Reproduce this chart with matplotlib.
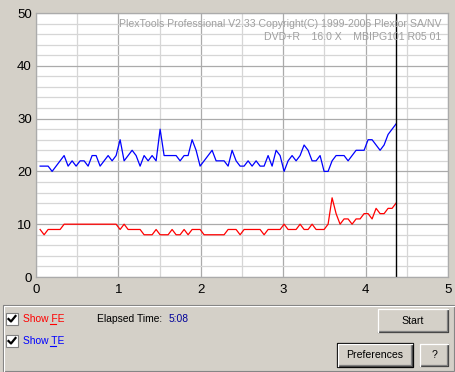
import numpy as np
import matplotlib
matplotlib.use('Agg')
import matplotlib.pyplot as plt
import matplotlib.patches as patches

# samples from 0.05 to 4.37, evenly spaced
te = [21, 21, 21, 20, 21, 22, 23, 21, 22, 21, 22, 22, 21, 23, 23, 21, 22, 23, 22, 23,
      26, 22, 23, 24, 23, 21, 23, 22, 23, 22, 28, 23, 23, 23, 23, 22, 23, 23, 26, 24,
      21, 22, 23, 24, 22, 22, 22, 21, 24, 22, 21, 21, 22, 21, 22, 21, 21, 23, 21, 24,
      23, 20, 22, 23, 22, 23, 25, 24, 22, 22, 23, 20, 20, 22, 23, 23, 23, 22, 23, 24,
      24, 24, 26, 26, 25, 24, 25, 27, 28, 29]
fe = [9, 8, 9, 9, 9, 9, 10, 10, 10, 10, 10, 10, 10, 10, 10, 10, 10, 10, 10, 10,
      9, 10, 9, 9, 9, 9, 8, 8, 8, 9, 8, 8, 8, 9, 8, 8, 9, 8, 9, 9,
      9, 8, 8, 8, 8, 8, 8, 9, 9, 9, 8, 9, 9, 9, 9, 9, 8, 9, 9, 9,
      9, 10, 9, 9, 9, 10, 9, 9, 10, 9, 9, 9, 10, 15, 12, 10, 11, 11, 10, 11,
      11, 12, 12, 11, 13, 12, 12, 13, 13, 14]
t = np.linspace(0.05, 4.37, len(te))

xticks = [0, 1, 2, 3, 4, 5]
yticks = [0, 10, 20, 30, 40, 50]

bg = '#D4D0C8'
W, H = 455, 372
fig = plt.figure(figsize=(W/100, H/100), dpi=100, facecolor=bg)
plt.rcParams['font.family'] = ['Liberation Sans', 'DejaVu Sans']

# overlay in pixel coords for the window widgets
ui = fig.add_axes([0, 0, 1, 1])
ui.set_xlim(0, W)
ui.set_ylim(H, 0)
ui.axis('off')

# chart
ax = fig.add_axes([36/W, (H-277)/H, 412/W, 264/H])
ax.set_facecolor('white')
ax.set_xlim(0, 5)
ax.set_ylim(0, 50)
ax.set_xticks(xticks)
ax.set_yticks(yticks)
ax.set_xticks(np.arange(0, 5.01, 0.5), minor=True)
ax.set_yticks(np.arange(0, 50.1, 2), minor=True)
ax.grid(which='minor', color='#D6D6D6', lw=0.9)
ax.grid(which='major', color='#ABABAB', lw=0.9)
ax.set_axisbelow(True)
ax.tick_params(which='both', length=0, labelsize=9.5)
ax.tick_params(axis='y', pad=3)
ax.tick_params(axis='x', pad=5)
for s in ax.spines.values():
    s.set_color('#ABABAB')
    s.set_linewidth(0.9)

ax.text(0.984, 0.957, 'PlexTools Professional V2.33 Copyright(C) 1999-2006 Plextor SA/NV',
        transform=ax.transAxes, ha='right', va='center', color='#A0A0A0', fontsize=7.55)
ax.text(0.984, 0.908, 'DVD+R    16.0 X    MBIPG101 R05 01',
        transform=ax.transAxes, ha='right', va='center', color='#A0A0A0', fontsize=7.55)

ax.plot(t, te, color='blue', lw=0.9)
ax.plot(t, fe, color='red', lw=0.9)
ax.axvline(t[-1], color='black', lw=1.0)

# bottom panel (etched frame)
ui.add_patch(patches.Rectangle((2.5, 304.5), 451, 66, fill=False, ec='#808080', lw=0.8))
ui.add_patch(patches.Rectangle((3.5, 305.5), 451, 66, fill=False, ec='white', lw=0.8))

def checkbox(x, y):
    ui.add_patch(patches.Rectangle((x, y), 12, 12, fc='white', ec='#808080', lw=0.8))
    ui.plot([x+2.5, x+5, x+9.5], [y+6, y+8.5, y+3], color='black', lw=1.6)

checkbox(6, 313)
checkbox(6, 335)
ui.text(23, 319.5, 'Show FE', color='red', fontsize=7.4, va='center')
ui.plot([50, 56], [324, 324], color='red', lw=0.8)
ui.text(23, 341.5, 'Show TE', color='blue', fontsize=7.4, va='center')
ui.plot([50, 56], [346, 346], color='blue', lw=0.8)
ui.text(97, 319.5, 'Elapsed Time:', color='black', fontsize=7.4, va='center')
ui.text(169, 319.5, '5:08', color='#000099', fontsize=7.4, va='center')

def button(x, y, w, h, label, default=False):
    ui.add_patch(patches.Rectangle((x, y), w, h, fc=bg, ec='none'))
    ui.plot([x, x+w, x+w], [y+h, y+h, y], color='#404040', lw=0.9)
    ui.plot([x+1, x+w-1, x+w-1], [y+h-1, y+h-1, y+1], color='#808080', lw=0.9)
    ui.plot([x, x, x+w], [y+h, y, y], color='white', lw=0.9)
    if default:
        ui.add_patch(patches.Rectangle((x-1, y-1), w+2, h+2, fill=False, ec='black', lw=0.9))
    ui.text(x + w/2, y + h/2 + 0.5, label, ha='center', va='center', fontsize=7.6, color='black')

button(378, 309, 70, 23, 'Start')
button(338, 344, 74, 22, 'Preferences', default=True)
button(420, 344, 28, 22, '?')

fig.savefig('out.png', dpi=100, facecolor=bg)
